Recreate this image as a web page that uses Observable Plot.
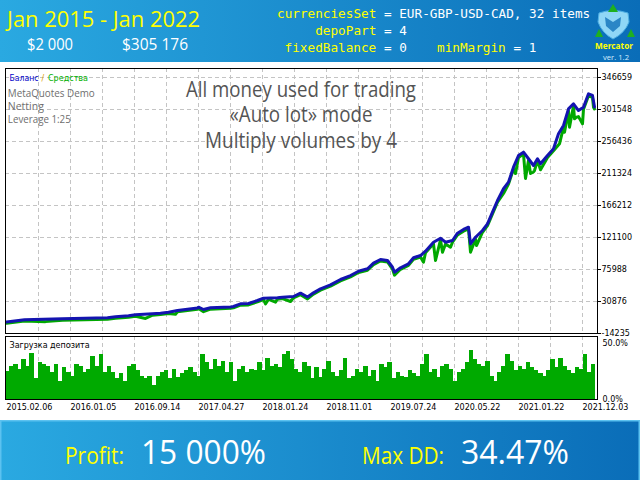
<!DOCTYPE html>
<html><head><meta charset="utf-8">
<script src="https://cdn.jsdelivr.net/npm/d3@7"></script>
<script src="https://cdn.jsdelivr.net/npm/@observablehq/plot@0.6"></script>
<style>
body{margin:0;background:#fff;}
#wrap{position:relative;width:640px;height:480px;overflow:hidden;font-family:"Open Sans",sans-serif;}
.abs{position:absolute;left:0;}
</style></head><body>
<div id="wrap">
<svg class="abs" style="top:0" width="640" height="62" font-family="Open Sans">
  <defs><linearGradient id="gh" x1="0" x2="1" y1="0" y2="0">
    <stop offset="0" stop-color="#2aa9e1"/><stop offset="1" stop-color="#0a6db8"/></linearGradient></defs>
  <rect width="640" height="62" fill="url(#gh)"/>
  <text x="7" y="27" font-size="22" fill="#ffff00" textLength="193" lengthAdjust="spacingAndGlyphs">Jan 2015 - Jan 2022</text>
  <text x="27" y="50" font-size="16.5" fill="#ffffff" textLength="46" lengthAdjust="spacingAndGlyphs">$2 000</text>
  <text x="122" y="50" font-size="16.5" fill="#ffffff" textLength="66" lengthAdjust="spacingAndGlyphs">$305 176</text>
  <g font-family="DejaVu Sans Mono" font-size="12.7">
    <text x="277" y="17.5"><tspan fill="#ffff00">currenciesSet</tspan><tspan fill="#ffffff" xml:space="preserve"> = EUR-GBP-USD-CAD, 32 items</tspan></text>
    <text x="315.2" y="35"><tspan fill="#ffff00">depoPart</tspan><tspan fill="#ffffff" xml:space="preserve"> = 4</tspan></text>
    <text x="284.6" y="51.5"><tspan fill="#ffff00">fixedBalance</tspan><tspan fill="#ffffff" xml:space="preserve"> = 0</tspan></text>
    <text x="437" y="51.5"><tspan fill="#ffff00">minMargin</tspan><tspan fill="#ffffff" xml:space="preserve"> = 1</tspan></text>
  </g>
  <g>
    <path d="M599,13 Q613,8 628,13 L629,22 Q625,33 613,39 Q602,33 598,22 Z" fill="#8fd6f6" stroke="#4fb0e4" stroke-width="1"/>
    <path d="M605,17 L613,22 L621,17 L620,26 L613,32 L606,26 Z" fill="#2a86c6"/>
    <polygon points="613,4 608,12 618,12" fill="#1fb01f"/>
    <polygon points="599,29 595,37 603,37" fill="#1fb01f"/>
    <polygon points="631,29 627,37 635,37" fill="#1fb01f"/>
    <text x="614" y="49" text-anchor="middle" font-size="9.5" font-weight="bold" fill="#ffff00" textLength="38" lengthAdjust="spacingAndGlyphs">Mercator</text>
    <text x="616" y="59.5" text-anchor="middle" font-size="8" fill="#d6eeff" textLength="26" lengthAdjust="spacingAndGlyphs">ver. 1.2</text>
  </g>
</svg>
<div id="main" class="abs" style="top:62px"></div>
<div id="lower" class="abs" style="top:335px"></div>
<svg class="abs" style="top:420px" width="640" height="60" font-family="Open Sans">
  <defs><linearGradient id="gf" x1="0" x2="1" y1="0" y2="0">
    <stop offset="0" stop-color="#2aa9e1"/><stop offset="1" stop-color="#0a6db8"/></linearGradient></defs>
  <rect x="0.75" y="0.75" width="638.5" height="60" fill="url(#gf)" stroke="#5cc2f0" stroke-width="1.5"/>
  <text x="65" y="44" font-size="23" fill="#ffff00" textLength="59" lengthAdjust="spacingAndGlyphs">Profit:</text>
  <text x="141" y="44" font-size="33" fill="#ffffff" textLength="125" lengthAdjust="spacingAndGlyphs">15 000%</text>
  <text x="362" y="44" font-size="23" fill="#ffff00" textLength="82" lengthAdjust="spacingAndGlyphs">Max DD:</text>
  <text x="461" y="44" font-size="33" fill="#ffffff" textLength="108" lengthAdjust="spacingAndGlyphs">34.47%</text>
</svg>
</div>
<script>
// deal index (x position in the tester chart) and balance values
const dealIdx = [0,18,56,101,109,122,129,146,154,162,171,181,191,192,197,204,224,227,234,242,251,257,271,276,287,294,301,307,314,324,334,344,352,361,367,374,381,386,388,394,402,407,414,419,427,434,439,446,451,457,462,464,469,476,481,486,491,497,502,507,512,517,522,527,531,534,541,547,552,557,562,567,572,577,582,586,588];
const balance = [2000,5100,6500,7900,9300,10700,12100,13500,14400,15800,18200,20000,21700,22800,19600,22000,23100,23800,27600,28000,32300,35500,36100,36900,37900,42600,37200,43100,48800,54400,61900,67500,73600,77000,84900,90100,88700,79200,72200,78400,84000,92500,95700,101800,114500,120100,114500,116900,127200,132400,135600,112200,121500,131000,140400,156800,173300,189800,199100,220200,236700,241400,232100,222600,232100,225000,236700,246200,267300,279000,302500,309600,300100,304800,323700,321300,305176];
// equity (Средства)
const eqIdx = [0,18,39,56,101,109,122,129,139,146,154,162,169,171,181,191,192,197,204,224,227,234,242,251,257,259,262,269,271,276,284,287,294,301,307,314,324,334,344,352,361,367,374,381,386,388,394,402,407,414,417,419,427,429,434,436,439,444,446,451,457,462,464,469,470,476,481,486,491,497,502,507,509,512,517,519,522,524,527,528,531,534,541,547,553,557,558,562,563,567,568,570,572,576,577,582,586,587,588];
const equity = [300,3300,2500,4600,6000,7400,8800,10200,7000,11600,12500,13900,13000,16300,18100,19800,20900,16500,20100,21200,21900,25700,26100,30400,33600,27600,33800,30000,34200,35000,30900,36000,40600,34500,41200,46900,52500,60000,65600,71700,75000,82900,88000,86600,76500,68000,76300,81800,90300,93500,86300,99600,112200,88700,117800,100400,112000,107400,114500,124800,130000,133200,100400,119000,109800,128500,137900,154300,170800,183100,196500,217500,211300,234000,238800,204300,229500,211300,213500,215500,229500,216500,234000,243500,253200,276300,269500,299700,276600,306800,288400,290700,291500,281400,302000,320900,318500,304800,302300];
// deposit load, %
const loadPct = [25,30,31,27,36,30,41,19,33,31,30,24,31,16,29,24,21,31,30,24,27,39,30,40,24,30,24,19,23,16,30,31,26,21,19,21,13,21,24,26,19,27,20,23,26,29,24,21,40,33,27,36,30,34,24,33,16,27,30,24,27,26,33,26,37,30,31,29,40,43,36,27,24,33,30,19,29,20,27,34,24,21,26,37,19,21,27,24,30,21,26,16,31,29,33,19,24,21,20,26,23,21,31,40,24,27,20,30,31,27,16,24,27,33,44,36,31,30,34,21,16,24,30,40,34,26,30,27,33,29,26,23,21,26,36,29,37,30,26,23,29,27,40,24,31];
const yTicks = [-14235,30876,75988,121100,166212,211324,256436,301548,346659];
const loadTicks = [0,50];
const xTickIdx = [0,64,128,192,256,320,384,448,512,576];
const xTickLabels = ["2015.02.06","2016.01.05","2016.09.14","2017.04.27","2018.01.24","2018.11.01","2019.07.24","2020.05.22","2021.01.22","2021.12.03"];
const gridIdx = [32,64,96,128,160,192,224,256,288,320,352,384,416,448,480,512,544,576];
const infoLines = ["MetaQuotes Demo","Netting","Leverage 1:25"];
const noteLines = ["All money used for trading","«Auto lot» mode","Multiply volumes by 4"];

const balData = dealIdx.map((x,i)=>({x, v:balance[i]}));
const eqData = eqIdx.map((x,i)=>({x, v:equity[i]}));
const grid = {stroke:"#c4c4c4", strokeDasharray:"4,3", strokeOpacity:1};
const xDom = [-1, 591];
const baseStyle = {fontFamily:"DejaVu Sans", fontSize:"8px", color:"#000", background:"transparent", overflow:"visible"};
const noteDy = [28, 53.5, 79];

const main = Plot.plot({
  width:640, height:273, marginLeft:5, marginRight:43, marginTop:6, marginBottom:2,
  style: baseStyle,
  x:{domain:xDom, axis:null, label:null},
  y:{domain:[-14235, 359348], axis:null, label:null},
  marks:[
    Plot.ruleY(yTicks.slice(1), grid),
    Plot.ruleX(gridIdx, grid),
    Plot.line(eqData, {x:"x", y:"v", stroke:"#00a800", strokeWidth:3}),
    Plot.line(balData, {x:"x", y:"v", stroke:"#1414b0", strokeWidth:3}),
    Plot.frame({stroke:"#000"}),
    Plot.axisY(yTicks, {anchor:"right", tickSize:3, tickPadding:1, tickFormat:d=>String(d), label:null}),
    Plot.text(["Баланс"], {frameAnchor:"top-left", dx:4, dy:12, lineAnchor:"bottom", textAnchor:"start", fill:"#0000c8", fontFamily:"DejaVu Sans", fontSize:8}),
    Plot.text(["/"], {frameAnchor:"top-left", dx:36, dy:12, lineAnchor:"bottom", textAnchor:"start", fill:"#e0a000", fontFamily:"DejaVu Sans", fontSize:8}),
    Plot.text(["Средства"], {frameAnchor:"top-left", dx:42.5, dy:12, lineAnchor:"bottom", textAnchor:"start", fill:"#00b000", fontFamily:"DejaVu Sans", fontSize:8}),
    ...infoLines.map((t,i)=>Plot.text([t], {frameAnchor:"top-left", dx:2.3, dy:28+i*13, lineAnchor:"bottom", textAnchor:"start", fill:"#6e6e6e", fontFamily:"Open Sans", fontSize:10.5})),
    ...noteLines.map((t,i)=>Plot.text([t], {frameAnchor:"top", dx:-0.5, dy:noteDy[i], lineAnchor:"bottom", textAnchor:"middle", fill:"#545454", fontFamily:"Open Sans", fontSize:21}))
  ]
});
const widths = {"All money used for trading":230,"«Auto lot» mode":143,"Multiply volumes by 4":192,"MetaQuotes Demo":87,"Leverage 1:25":63,"Средства":40,"Баланс":29};
d3.select(main).selectAll("text").each(function(){
  const w = widths[this.textContent];
  if (w) d3.select(this).attr("textLength", w).attr("lengthAdjust","spacingAndGlyphs");
});
document.getElementById("main").appendChild(main);

const barW = 590/loadPct.length;
const lower = Plot.plot({
  width:640, height:85, marginLeft:5, marginRight:43, marginTop:1, marginBottom:21,
  style: baseStyle,
  x:{domain:xDom, axis:null, label:null},
  y:{domain:[0,56.5], axis:null, label:null},
  marks:[
    Plot.ruleX(gridIdx, grid),
    Plot.rectY(loadPct, {x1:(d,i)=>-1+i*barW, x2:(d,i)=>-1+(i+1)*barW+0.4, y:d=>d, fill:"#00aa00", shapeRendering:"crispEdges"}),
    Plot.frame({stroke:"#000"}),
    Plot.axisY(loadTicks, {anchor:"right", tickSize:0, tickPadding:5, tickFormat:d=>d.toFixed(1)+"%", label:null}),
    Plot.text(["Загрузка депозита"], {frameAnchor:"top-left", dx:4, dy:11, lineAnchor:"bottom", textAnchor:"start", fill:"#000", fontFamily:"DejaVu Sans", fontSize:8}),
    Plot.text(xTickLabels, {x:(d,i)=>xTickIdx[i], frameAnchor:"bottom", dy:7.5, textAnchor:"start", lineAnchor:"middle", fill:"#000", fontFamily:"DejaVu Sans", fontSize:8})
  ]
});
document.getElementById("lower").appendChild(lower);
</script>
</body></html>
